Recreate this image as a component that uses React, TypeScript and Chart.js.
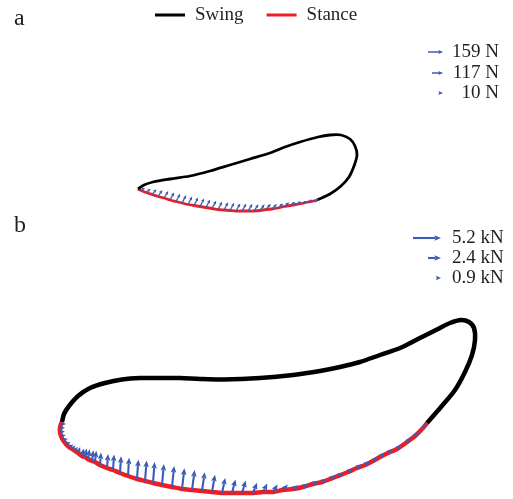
import { useEffect, useRef } from 'react';
import { Chart, registerables } from 'chart.js';

Chart.register(...registerables);

// ---------- data ----------
const LEGEND_LABELS = ['Swing', 'Stance'];
const PANEL_LABELS = ['a', 'b'];

// Panel a: foot trajectory (swing part), position units
const SWING_A_X = [317, 330, 341, 349, 354, 357, 355, 350, 341, 330, 318, 300, 285, 270, 250, 230, 210, 190, 170, 153, 144, 138];
const SWING_A_Y = [300, 306, 314, 323, 334, 345, 354, 361, 365, 365, 363, 358, 353, 347, 341, 335, 329, 324, 321, 318, 315, 311];
// Panel a: stance samples (where contact forces act)
const STANCE_A_X = [140, 146, 152, 158, 164, 170, 176, 182, 188, 194, 200, 206, 212, 218, 224, 230, 236, 242, 248, 254, 260, 266, 272, 278, 284, 290, 296, 302, 308, 314];
const STANCE_A_Y = [310, 307.5, 305.5, 303.5, 302, 300, 298.5, 297, 295.5, 294.5, 293.5, 292.5, 291.5, 290.5, 290, 289.5, 289, 289, 289, 289, 289.5, 290.5, 291, 292, 293.5, 294.5, 295.5, 296.5, 298, 299];
// Panel a: contact force (N)
const FORCE_A_X = [55, 50, 48, 46, 45, 44, 44, 44, 44, 44, 44, 44, 44, 44, 44, 44, 45, 45, 46, 47, 48, 50, 52, 54, 56, 57, 57, 56, 52, 48];
const FORCE_A_Y = [20, 40, 56, 68, 75, 80, 82, 83, 84, 84, 84, 84, 83, 83, 82, 82, 80, 78, 75, 71, 66, 60, 54, 48, 42, 36, 31, 27, 23, 19];
const KEY_A_VALUES = [159, 117, 10];
const KEY_A_UNIT = 'N';

// Panel b: foot trajectory (swing part)
const SWING_B_X = [427, 441, 455, 465, 472, 475, 474, 469, 461, 450, 438, 420, 400, 380, 360, 340, 320, 293, 260, 223, 200, 180, 160, 140, 122, 105, 90, 78, 69, 64, 62];
const SWING_B_Y = [77, 93, 110, 128, 145, 160, 172, 178, 180, 177, 171, 162, 152, 145, 138, 133, 129, 125, 122, 120.5, 121, 122, 122, 122, 120.5, 117, 112, 104, 94, 86, 78];
// Panel b: stance samples
const STANCE_B_X = [61, 60, 60, 61, 63, 66, 69, 72, 75, 78, 82, 85, 88, 92, 95, 100, 107, 113, 120, 128, 137, 145, 153, 162, 172, 182, 192, 202, 212, 222, 232, 242, 253, 263, 273, 283, 293, 303, 313, 322, 330, 338, 348, 357, 365, 373, 380, 388, 397, 407, 415, 423];
const STANCE_B_Y = [76, 72, 68, 64, 60, 56, 53, 51, 49, 47, 44, 43, 41, 39, 38, 35, 32, 30, 27, 24, 21, 19, 17, 15, 13, 11, 10, 9, 8, 7, 7, 7, 7, 8, 8, 10, 11, 13, 16, 18, 21, 24, 28, 32, 35, 39, 43, 47, 51, 58, 64, 72];
// Panel b: contact force (kN)
const FORCE_B_X = [0.8, 0.8, 0.8, 0.8, 0.8, 0.75, 0.7, 0.6, 0.5, 0.4, 0.35, 0.3, 0.3, 0.25, 0.25, 0.2, 0.2, 0.2, 0.2, 0.2, 0.25, 0.3, 0.3, 0.35, 0.4, 0.45, 0.5, 0.5, 0.55, 0.6, 0.65, 0.7, 0.75, 0.8, 0.85, 0.9, 0.95, 1.0, 1.0, 1.0, 1.0, 1.0, 1.0, 0.95, 0.95, 0.9, 0.9, 0.85, 0.8, 0.75, 0.7, 0.6];
const FORCE_B_Y = [0, 0.05, 0.1, 0.15, 0.2, 0.3, 0.4, 0.6, 0.8, 1.1, 1.4, 1.6, 1.8, 2.0, 2.1, 2.3, 2.6, 2.9, 3.1, 3.4, 3.6, 3.8, 3.9, 3.9, 3.9, 3.85, 3.7, 3.5, 3.2, 2.8, 2.5, 2.3, 1.9, 1.6, 1.4, 1.0, 0.7, 0.6, 0.6, 0.6, 0.65, 0.65, 0.7, 0.7, 0.75, 0.75, 0.8, 0.8, 0.85, 0.85, 0.85, 0.8];
const KEY_B_VALUES = [5.2, 2.4, 0.9];
const KEY_B_UNIT = 'kN';

// ---------- styles / layout ----------
const BLACK = '#000000';
const RED = '#ee1d23';
const BLUE = '#3a5cb4';
const TEXT = '#231f20';
const FONT = '"Liberation Serif", "Times New Roman", serif';
const QUIVER_A = 15 / 159; // position units per N
const QUIVER_B = 28 / 5.2; // position units per kN
const ARROW_A = { color: BLUE, shaft: 1.3, headLength: 3.6, headWidth: 3.4, minLength: 4 };
const ARROW_A_KEY = { color: BLUE, shaft: 1.5, headLength: 4.5, headWidth: 4, minLength: 4.5 };
const ARROW_B = { color: BLUE, shaft: 2.1, headLength: 6.5, headWidth: 5.6, minLength: 5 };
const LEGEND_COLORS = [BLACK, RED];

const pts = (xs: number[], ys: number[]) => xs.map((x, i) => ({ x, y: ys[i] }));

function drawArrow(ctx: CanvasRenderingContext2D, x0: number, y0: number, x1: number, y1: number, st: any, pivotTip: boolean) {
  const dx = x1 - x0;
  const dy = y1 - y0;
  const L = Math.hypot(dx, dy);
  if (!L) return;
  const ux = dx / L;
  const uy = dy / L;
  const Lp = Math.max(L, st.minLength);
  if (pivotTip) { x0 = x1 - ux * Lp; y0 = y1 - uy * Lp; } else { x1 = x0 + ux * Lp; y1 = y0 + uy * Lp; }
  let hl = st.headLength;
  let hw = st.headWidth;
  if (Lp < hl) { hw = (hw * Lp) / hl; hl = Lp; }
  const nx = -uy;
  const ny = ux;
  const hx = x1 - ux * hl;
  const hy = y1 - uy * hl;
  ctx.fillStyle = st.color;
  ctx.strokeStyle = st.color;
  if (Lp > hl + 0.1) {
    ctx.lineWidth = st.shaft;
    ctx.lineCap = 'butt';
    ctx.beginPath();
    ctx.moveTo(x0, y0);
    ctx.lineTo(hx + ux * 0.8, hy + uy * 0.8);
    ctx.stroke();
  }
  ctx.beginPath();
  ctx.moveTo(x1, y1);
  ctx.lineTo(hx + (nx * hw) / 2, hy + (ny * hw) / 2);
  ctx.lineTo(x1 - ux * hl * 0.85, y1 - uy * hl * 0.85);
  ctx.lineTo(hx - (nx * hw) / 2, hy - (ny * hw) / 2);
  ctx.closePath();
  ctx.fill();
}

const quiverPlugin = {
  id: 'quiver',
  afterDatasetsDraw(chart: any, _args: any, opts: any) {
    const { ctx } = chart;
    const xs = chart.scales.x;
    const ys = chart.scales.y;
    ctx.save();
    const field = (X: number[], Y: number[], FX: number[], FY: number[], q: number, st: any) => {
      X.forEach((x, i) => {
        const bx = xs.getPixelForValue(x);
        const by = ys.getPixelForValue(Y[i]);
        const tx = xs.getPixelForValue(x + FX[i] * q);
        const ty = ys.getPixelForValue(Y[i] + FY[i] * q);
        drawArrow(ctx, bx, by, tx, ty, st, false);
      });
    };
    field(STANCE_A_X, STANCE_A_Y, FORCE_A_X, FORCE_A_Y, QUIVER_A, ARROW_A);
    field(STANCE_B_X, STANCE_B_Y, FORCE_B_X, FORCE_B_Y, QUIVER_B, ARROW_B);

    // quiver keys
    const keys = [
      { values: KEY_A_VALUES, unit: KEY_A_UNIT, q: QUIVER_A, st: ARROW_A_KEY, ...opts.keyA },
      { values: KEY_B_VALUES, unit: KEY_B_UNIT, q: QUIVER_B, st: ARROW_B, ...opts.keyB },
    ];
    ctx.font = `${opts.fontSize}px ${FONT}`;
    ctx.textBaseline = 'middle';
    keys.forEach((k) => {
      k.values.forEach((v: number, i: number) => {
        const ty = ys.getPixelForValue(k.rows[i]);
        const tx = xs.getPixelForValue(k.tipX);
        const bx = xs.getPixelForValue(k.tipX - v * k.q);
        drawArrow(ctx, bx, ty, tx, ty, k.st, true);
        ctx.fillStyle = TEXT;
        ctx.textAlign = k.align;
        ctx.fillText(`${v} ${k.unit}`, xs.getPixelForValue(k.labelX), ty);
      });
    });

    // legend (line swatches)
    const lg = opts.legend;
    let lx = xs.getPixelForValue(lg.x);
    const ly = ys.getPixelForValue(lg.y);
    ctx.textAlign = 'left';
    ctx.textBaseline = 'middle';
    LEGEND_LABELS.forEach((t, i) => {
      ctx.fillStyle = LEGEND_COLORS[i];
      ctx.fillRect(lx, ly - lg.lineWidth / 2, lg.swatch, lg.lineWidth);
      lx += lg.swatch + lg.gap;
      ctx.fillStyle = TEXT;
      ctx.fillText(t, lx, ly);
      lx += ctx.measureText(t).width + lg.spacing;
    });

    // panel labels
    ctx.font = `${opts.panelFontSize}px ${FONT}`;
    ctx.textAlign = 'left';
    ctx.textBaseline = 'alphabetic';
    ctx.fillStyle = TEXT;
    PANEL_LABELS.forEach((t, i) => {
      ctx.fillText(t, xs.getPixelForValue(opts.panelPos[i][0]), ys.getPixelForValue(opts.panelPos[i][1]));
    });
    ctx.restore();
  },
};

export default function App() {
  const ref = useRef<HTMLCanvasElement | null>(null);
  useEffect(() => {
    document.body.style.margin = '0';
    document.body.style.overflow = 'hidden';
    const canvas = ref.current;
    if (!canvas) return;
    const line = (label: string, data: any[], color: string, width: number) => ({
      label,
      data,
      borderColor: color,
      backgroundColor: color,
      borderWidth: width,
      showLine: true,
      pointRadius: 0,
      tension: 0.3,
      fill: false,
    });
    const swingA = pts(SWING_A_X, SWING_A_Y);
    const swingB = pts(SWING_B_X, SWING_B_Y);
    const stanceA = [swingA[swingA.length - 1], ...pts(STANCE_A_X, STANCE_A_Y), swingA[0]];
    const stanceB = [swingB[swingB.length - 1], ...pts(STANCE_B_X, STANCE_B_Y), swingB[0]];
    const chart = new Chart(canvas, {
      type: 'scatter',
      data: {
        datasets: [
          line(LEGEND_LABELS[0], swingA, BLACK, 2.8),
          line(LEGEND_LABELS[1], stanceA, RED, 2.8),
          line(LEGEND_LABELS[0], swingB, BLACK, 4.5),
          line(LEGEND_LABELS[1], stanceB, RED, 4.5),
        ],
      },
      options: {
        responsive: false,
        animation: false,
        events: [],
        layout: { padding: 0 },
        scales: {
          x: { type: 'linear', min: 0, max: 513, display: false },
          y: { type: 'linear', min: 1, max: 500, display: false },
        },
        plugins: {
          tooltip: { enabled: false },
          legend: { display: false },
          quiver: {
            fontSize: 19,
            panelFontSize: 24,
            legend: { x: 155, y: 485, swatch: 30, lineWidth: 3, gap: 10, spacing: 23 },
            keyA: { tipX: 443, rows: [448, 427, 407], labelX: 499, align: 'right' },
            keyB: { tipX: 441, rows: [262, 242, 222], labelX: 452, align: 'left' },
            panelPos: [[14, 475], [14, 268]],
          },
        },
      } as any,
      plugins: [quiverPlugin],
    });
    return () => chart.destroy();
  }, []);
  return (
    <div style={{ width: 513, height: 499 }}>
      <canvas ref={ref} width={513} height={499} style={{ display: 'block' }} />
    </div>
  );
}
